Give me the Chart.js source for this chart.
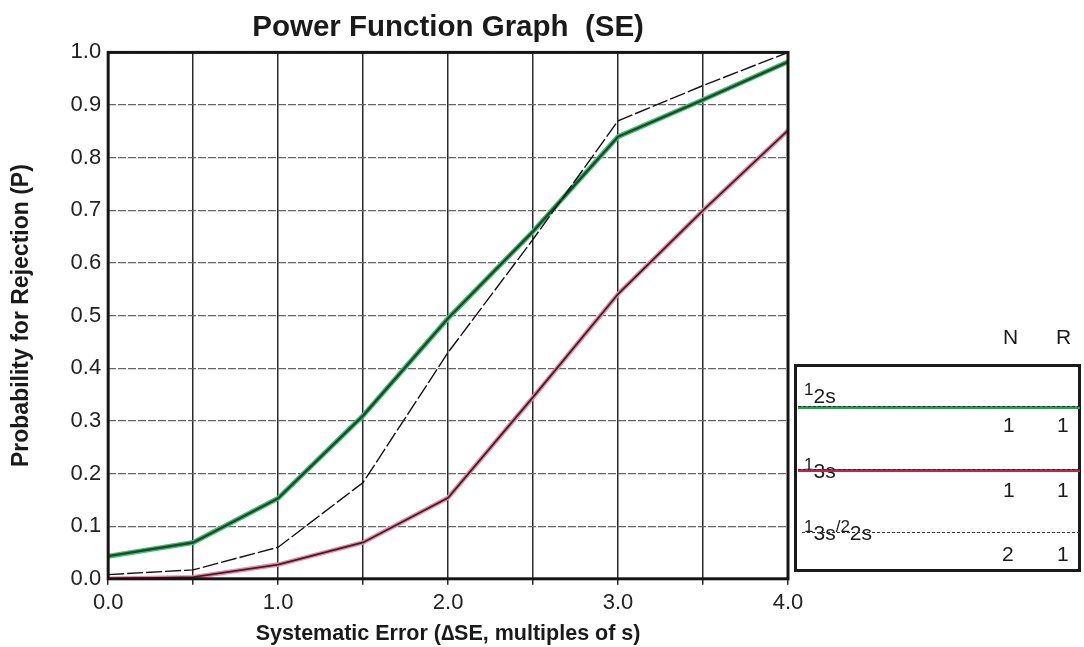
<!DOCTYPE html>
<html>
<head>
<meta charset="utf-8">
<script src="https://cdn.jsdelivr.net/npm/chart.js@4.4.1/dist/chart.umd.min.js"></script>
<style>
  html, body { margin: 0; padding: 0; background: #fff; }
  #wrap { position: relative; width: 1084px; height: 647px; font-family: "Liberation Sans", Arial, sans-serif; color: #1a1a1a; }
  #grafica { position: absolute; left: 0; top: 0; }
  .t { position: absolute; line-height: 1; white-space: nowrap; }
  .num { font-size: 21px; }
  .sup { font-size: 17px; }
  .sub { font-size: 21px; position: relative; top: 8px; }
  #leyenda { position: absolute; left: 794px; top: 364px; width: 281px; height: 202px; border: 3px solid #1a1a1a; }
  .linea { position: absolute; }
</style>
</head>
<body>
<div id="wrap">
  <canvas id="grafica" width="1084" height="647"></canvas>
  <div id="leyenda"></div>

  <div class="t num" style="left:1003px; top:326px">N</div>
  <div class="t num" style="left:1056px; top:326px">R</div>

  <!-- fila 1 -->
  <div class="t" style="left:804px; top:377px"><span class="sup">1</span><span class="sub">2s</span></div>
  <div class="linea" style="left:798px; width:282px; top:406px; height:3px; background:#2f9a56"></div>
  <div class="linea" style="left:798px; width:282px; top:406px; border-top:1px dashed #1a3a24"></div>
  <div class="t num" style="left:1003px; top:414px">1</div>
  <div class="t num" style="left:1057px; top:414px">1</div>

  <!-- fila 2 -->
  <div class="t" style="left:804px; top:452px"><span class="sup">1</span><span class="sub">3s</span></div>
  <div class="linea" style="left:798px; width:282px; top:469px; height:3px; background:#c91f4b"></div>
  <div class="linea" style="left:798px; width:282px; top:469px; border-top:1px dashed #5a1a2a"></div>
  <div class="t num" style="left:1003px; top:479px">1</div>
  <div class="t num" style="left:1057px; top:479px">1</div>

  <!-- fila 3 -->
  <div class="t" style="left:804px; top:514px"><span class="sup">1</span><span class="sub">3s</span><span class="sup">/2</span><span class="sub">2s</span></div>
  <div class="linea" style="left:802px; width:278px; top:532px; border-top:1.5px dashed #333"></div>
  <div class="t num" style="left:1002px; top:543px">2</div>
  <div class="t num" style="left:1057px; top:543px">1</div>
</div>
<script>
// DATOS
const errorSistematico = [0.0, 0.5, 1.0, 1.5, 2.0, 2.5, 3.0, 3.5, 4.0];
const p12s = [0.043, 0.069, 0.153, 0.31, 0.495, 0.66, 0.84, 0.91, 0.982];
const p13s = [0.0, 0.003, 0.027, 0.069, 0.154, 0.345, 0.541, 0.70, 0.852];
const p13s22s = [0.008, 0.017, 0.06, 0.183, 0.43, 0.645, 0.87, 0.937, 1.0];
const yTicks = [0.0, 0.1, 0.2, 0.3, 0.4, 0.5, 0.6, 0.7, 0.8, 0.9, 1.0];
const xTicks = [0.0, 0.5, 1.0, 1.5, 2.0, 2.5, 3.0, 3.5, 4.0];

const puntos = (serie) => errorSistematico.map((x, i) => ({ x: x, y: serie[i] }));

// marco del area de la grafica
const marco = {
    id: 'marco',
    afterDraw(chart) {
        const a = chart.chartArea;
        const ctx = chart.ctx;
        ctx.save();
        ctx.strokeStyle = '#151515';
        ctx.lineWidth = 3;
        ctx.strokeRect(a.left, a.top, a.right - a.left, a.bottom - a.top);
        ctx.restore();
    }
};

const fuente = "'Liberation Sans', Arial, sans-serif";

new Chart(document.getElementById('grafica').getContext('2d'), {
    type: 'line',
    data: {
        datasets: [
            { label: '1-2s fondo', data: puntos(p12s), borderColor: '#45c072', borderWidth: 5, pointRadius: 0, tension: 0, order: 5 },
            { label: '1-2s', data: puntos(p12s), borderColor: '#1c4a2c', borderWidth: 2.4, pointRadius: 0, tension: 0, order: 2 },
            { label: '1-3s fondo', data: puntos(p13s), borderColor: '#ef86a2', borderWidth: 4.5, pointRadius: 0, tension: 0, order: 4 },
            { label: '1-3s', data: puntos(p13s), borderColor: '#3a2228', borderWidth: 1.8, pointRadius: 0, tension: 0, order: 1 },
            { label: '1-3s/2-2s', data: puntos(p13s22s), borderColor: '#111', borderWidth: 1.4, borderDash: [16, 3], pointRadius: 0, tension: 0, order: 0 }
        ]
    },
    options: {
        responsive: false,
        animation: false,
        layout: { padding: { top: 0, left: 0, right: 296, bottom: 0 } },
        plugins: {
            legend: { display: false },
            tooltip: { enabled: false },
            title: {
                display: true,
                fullSize: false,
                text: 'Power Function Graph  (SE)',
                color: '#1a1a1a',
                font: { family: fuente, size: 29.5, weight: 'bold' },
                padding: { top: 10, bottom: 7 }
            }
        },
        scales: {
            x: {
                type: 'linear',
                min: 0, max: 4,
                afterBuildTicks: (s) => { s.ticks = xTicks.map(v => ({ value: v })); },
                grid: { color: '#2a2a2a', lineWidth: 1.5, tickLength: 6, drawTicks: true },
                border: { display: false },
                ticks: {
                    color: '#222',
                    font: { family: fuente, size: 22 },
                    padding: 5,
                    maxRotation: 0,
                    autoSkip: false,
                    callback: (v) => Number.isInteger(v) ? v.toFixed(1) : ''
                },
                title: {
                    display: true,
                    text: 'Systematic Error (\u2206SE, multiples of s)',
                    color: '#1a1a1a',
                    font: { family: fuente, size: 21.5, weight: 'bold' },
                    padding: { top: 0, bottom: 0 }
                }
            },
            y: {
                min: 0, max: 1,
                afterBuildTicks: (s) => { s.ticks = yTicks.map(v => ({ value: v })); },
                grid: { color: '#666', lineWidth: 1.3, drawTicks: false },
                border: { display: false, dash: [8, 2] },
                ticks: {
                    color: '#222',
                    font: { family: fuente, size: 22 },
                    padding: 7,
                    callback: (v) => v.toFixed(1)
                },
                title: {
                    display: true,
                    text: 'Probability for Rejection (P)',
                    color: '#1a1a1a',
                    font: { family: fuente, size: 23, weight: 'bold' },
                    padding: { top: 8, bottom: 28 }
                }
            }
        }
    },
    plugins: [marco]
});
</script>
</body>
</html>
